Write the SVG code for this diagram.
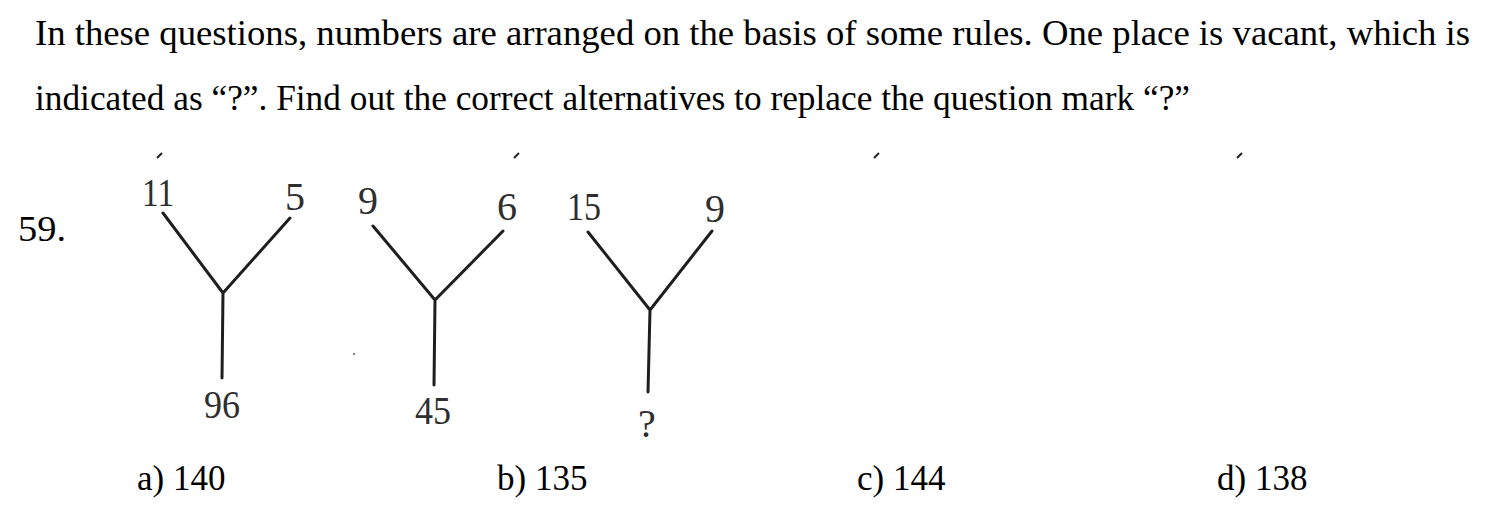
<svg xmlns="http://www.w3.org/2000/svg" width="1512" height="510" viewBox="0 0 1512 510">
<style>
.q{font-family:"Liberation Serif","Times New Roman",serif;font-size:36px;fill:#000}
.o{font-family:"Liberation Serif","Times New Roman",serif;font-size:35px;fill:#000}
.n{font-family:"Liberation Serif","Times New Roman",serif;font-size:40px;fill:#2e2e2e;text-anchor:middle}
.l{stroke:#1e1e1e;stroke-width:3;fill:none;stroke-linecap:round;stroke-linejoin:round}
.t{stroke:#222;stroke-width:2;fill:none}
</style>
<rect width="1512" height="510" fill="#fff"/>
<g id="question">
<text class="q" x="35" y="45" textLength="1435" lengthAdjust="spacingAndGlyphs">In these questions, numbers are arranged on the basis of some rules. One place is vacant, which is</text>
<text class="q" x="35" y="110" textLength="1155" lengthAdjust="spacingAndGlyphs">indicated as “?”. Find out the correct alternatives to replace the question mark “?”</text>
<text class="q" x="18" y="241" textLength="48" lengthAdjust="spacingAndGlyphs">59.</text>
</g>
<g id="ticks">
<path class="t" d="M157 158 L162 153 M514 158 L519 153 M874 158 L879 153 M1237 158 L1242 153"/>
</g>
<g id="connectors">
<path class="l" d="M163 213 L223 293 L290 218 M223 293 L222 378"/>
<path class="l" d="M373 226 L435 300 L503 231 M435 300 L434 385"/>
<path class="l" d="M588 232 L650 310 L712 231 M650 310 L648 392"/>
</g>
<g id="tree1">
<text class="n" x="158" y="206" textLength="32" lengthAdjust="spacingAndGlyphs">11</text>
<text class="n" x="295" y="210">5</text>
<text class="n" x="222" y="418" textLength="36" lengthAdjust="spacingAndGlyphs">96</text>
</g>
<g id="tree2">
<text class="n" x="368" y="214">9</text>
<text class="n" x="507" y="220">6</text>
<text class="n" x="433" y="424" textLength="36" lengthAdjust="spacingAndGlyphs">45</text>
</g>
<g id="tree3">
<text class="n" x="584" y="220" textLength="34" lengthAdjust="spacingAndGlyphs">15</text>
<text class="n" x="715" y="222">9</text>
<text class="n" x="647" y="437">?</text>
</g>
<circle cx="354" cy="354" r="1.2" fill="#888"/>
<g id="options">
<text class="o" x="137" y="490">a) 140</text>
<text class="o" x="497" y="490">b) 135</text>
<text class="o" x="857" y="490">c) 144</text>
<text class="o" x="1217" y="490">d) 138</text>
</g>
</svg>
